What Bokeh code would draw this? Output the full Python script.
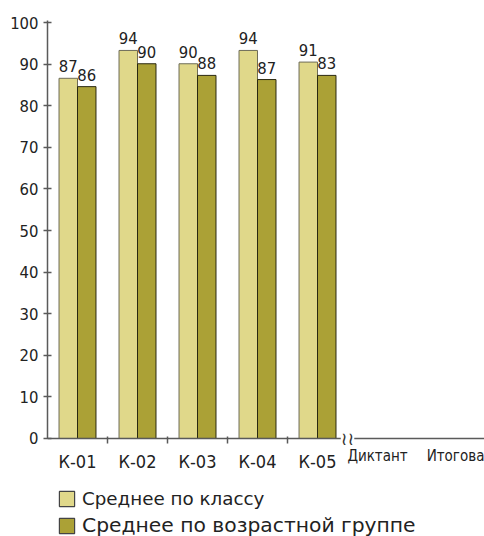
from bokeh.plotting import figure
from bokeh.models import Range1d, FixedTicker, Legend, LegendItem, Label, ColumnDataSource, LinearAxis
from bokeh.layouts import column
from bokeh.core.properties import value
from bokeh.embed import file_html
from bokeh.resources import INLINE

# ---- data ----
categories = ["К-01", "К-02", "К-03", "К-04", "К-05"]
extra_categories = ["Диктант", "Итогова"]
class_avg = [86.6, 93.3, 90.1, 93.3, 90.5]
age_avg = [84.6, 90.1, 87.3, 86.3, 87.3]
class_labels = ["87", "94", "90", "94", "91"]
age_labels = ["86", "90", "88", "87", "83"]
y_ticks = [0, 10, 20, 30, 40, 50, 60, 70, 80, 90, 100]
series_names = ["Среднее по классу", "Среднее по возрастной группе"]

# ---- styles ----
COND = "'DejaVu Sans Condensed', sans-serif"
WIDE = "'DejaVu Sans', sans-serif"
LIGHT = "#E0D88A"
DARK = "#ABA136"
LIGHT_LINE = "#6e6c58"
DARK_LINE = "#2a2810"
AXIS = "#5a5a5a"
TEXT = "#222222"

W = 484
BAR_W = 0.308
Y_TOP = 100.5
Y_BOTTOM = -7.7  # room under the zero line for the category labels

p = figure(width=W, height=478, x_range=Range1d(-0.5, 6.783), y_range=Range1d(Y_BOTTOM, Y_TOP),
           output_backend="svg", toolbar_location=None,
           min_border_left=47, min_border_right=0, min_border_top=20, min_border_bottom=8)
p.xgrid.visible = False
p.ygrid.visible = False
p.outline_line_color = None
p.background_fill_color = "white"

idx = list(range(len(categories)))
src1 = ColumnDataSource(dict(x=[i - BAR_W / 2 for i in idx], top=class_avg, label=class_labels))
src2 = ColumnDataSource(dict(x=[i + BAR_W / 2 for i in idx], top=age_avg, label=age_labels))

p.vbar(x="x", top="top", bottom=0, width=BAR_W, source=src1, fill_color=LIGHT, line_color=LIGHT_LINE, line_width=1)
p.vbar(x="x", top="top", bottom=0, width=BAR_W, source=src2, fill_color=DARK, line_color=DARK_LINE, line_width=1)

for src in (src1, src2):
    p.text(x="x", y="top", text="label", source=src, text_align="center", text_baseline="alphabetic",
           y_offset=-12, text_font=value(COND), text_font_size="16.5px", text_color=TEXT)

# x axis: main categories, pinned at 0
xa = p.xaxis[0]
xa.fixed_location = 0
xa.ticker = FixedTicker(ticks=idx, minor_ticks=[i + 0.5 for i in idx[:-1]])
xa.major_label_overrides = {i: lab for i, lab in zip(idx, categories)}
xa.major_tick_in = 0
xa.major_tick_out = 0
xa.minor_tick_in = 2
xa.minor_tick_out = 5
xa.minor_tick_line_color = AXIS
xa.minor_tick_line_width = 1.5
xa.axis_line_color = AXIS
xa.axis_line_width = 1.5
xa.major_label_standoff = 8
xa.major_label_text_font = COND
xa.major_label_text_font_size = "18px"
xa.major_label_text_color = TEXT

# second x axis: the two later columns (smaller text, same row)
extra_pos = [len(categories), len(categories) + 1.3]
xb = LinearAxis(fixed_location=0, ticker=FixedTicker(ticks=extra_pos, minor_ticks=[]),
                major_label_overrides={pos: lab for pos, lab in zip(extra_pos, extra_categories)},
                axis_line_color=None, major_tick_line_color=None, minor_tick_line_color=None,
                major_tick_in=0, major_tick_out=0, major_label_standoff=9,
                major_label_text_font=COND, major_label_text_font_size="15px",
                major_label_text_color=TEXT)
p.add_layout(xb, "below")

# y axis
ya = p.yaxis[0]
ya.bounds = (0, Y_TOP)
ya.ticker = FixedTicker(ticks=y_ticks)
ya.major_tick_in = 4
ya.major_tick_out = 4
ya.major_tick_line_color = AXIS
ya.major_tick_line_width = 1.5
ya.minor_tick_line_color = None
ya.axis_line_color = AXIS
ya.axis_line_width = 1.5
ya.major_label_standoff = 5
ya.major_label_text_font = COND
ya.major_label_text_font_size = "16.5px"
ya.major_label_text_color = TEXT

# axis break mark
p.add_layout(Label(x=len(categories) - 0.5, y=0, text="≀≀", text_align="center", text_baseline="middle",
                   text_font=WIDE, text_font_size="18px", text_color="#333333",
                   background_fill_color="white"))

# ---- legend figure (its bars sit far outside its visible range; only the legend shows) ----
lg = figure(width=W, height=58, x_range=Range1d(0, 1), y_range=Range1d(1000, 1001),
            output_backend="svg", toolbar_location=None,
            x_axis_location=None, y_axis_location=None, min_border=0)
lg.xgrid.visible = False
lg.ygrid.visible = False
lg.outline_line_color = None
d1 = lg.vbar(x="x", top="top", width=BAR_W, source=src1, fill_color=LIGHT, line_color="#444444", line_width=1.2)
d2 = lg.vbar(x="x", top="top", width=BAR_W, source=src2, fill_color=DARK, line_color="#444444", line_width=1.2)

leg1 = Legend(items=[LegendItem(label=series_names[0], renderers=[d1])], location=(10, 27),
              label_text_font=WIDE, label_text_font_size="18.3px", label_text_color=TEXT,
              glyph_width=19, glyph_height=19, label_standoff=6, padding=0, margin=0,
              border_line_color=None, background_fill_alpha=0)
leg2 = Legend(items=[LegendItem(label=series_names[1], renderers=[d2])], location=(10, -1),
              label_text_font=WIDE, label_text_font_size="20.3px", label_text_color=TEXT,
              glyph_width=19, glyph_height=19, label_standoff=6, padding=0, margin=0,
              border_line_color=None, background_fill_alpha=0)
lg.add_layout(leg1)
lg.add_layout(leg2)

layout = column(p, lg, spacing=0)
open("out.html", "w").write(file_html(layout, INLINE))
